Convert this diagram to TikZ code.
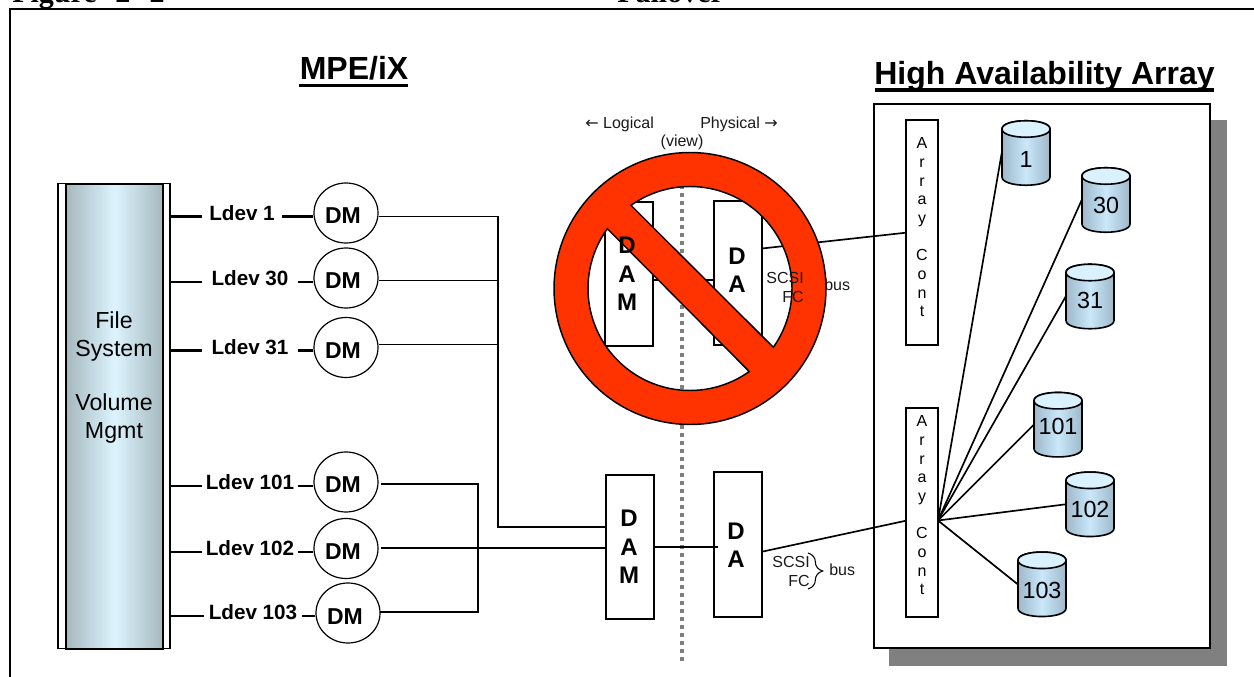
\documentclass[tikz,border=0pt]{standalone}
\usepackage{fontspec}
\setmainfont{Liberation Sans}
\newfontfamily\serifbold[BoldFont={Liberation Serif Bold}]{Liberation Serif}
\newfontfamily\arrowfont{DejaVu Sans}
\usetikzlibrary{decorations.pathreplacing,shapes.geometric}
\definecolor{barend}{HTML}{A5B8BE}
\definecolor{barmid}{HTML}{DDF4FE}
\definecolor{cylend}{HTML}{9CB8C9}
\definecolor{cylmid}{HTML}{CBE8FB}
\definecolor{cyltop}{HTML}{DAF1FF}
\definecolor{shadowgray}{HTML}{808080}
\definecolor{nored}{HTML}{FF3300}
\tikzset{
  boxnode/.style={draw=black,fill=white,line width=1.5pt,inner sep=0pt,minimum width=36pt},
  dmnode/.style={draw=black,fill=white,line width=0.9pt,ellipse,inner sep=0pt,minimum width=48pt,minimum height=45pt,font=\fontsize{17.25}{20}\selectfont\bfseries},
  ldevnode/.style={inner sep=0pt,font=\fontsize{15.5}{18}\selectfont\bfseries},
  wire/.style={line width=1.25pt,draw=black},
  ldevwire/.style={line width=1.6pt,draw=black},
  smalltext/.style={inner sep=0pt,font=\fontsize{12}{14}\selectfont,text=black!90},
  lettersbold/.style={inner sep=0pt,align=center,font=\fontsize{18}{21.2}\selectfont\bfseries},
  lettersthin/.style={inner sep=0pt,align=center,font=\fontsize{12}{14}\selectfont},
  headline/.style={inner sep=0pt,font=\fontsize{24}{28}\selectfont\bfseries},
  cyllabel/.style={inner sep=0pt,minimum width=36pt,minimum height=48pt,font=\fontsize{17.5}{20}\selectfont},
}
\newcommand{\dmtext}{\hspace*{-4.5pt}\raisebox{-8.25pt}[0pt][0pt]{DM}}
\newcommand{\ldevtext}[1]{\raisebox{-2.8pt}[0pt][0pt]{#1}}
% cylinder: name, left x, top y, label, drop of the label's baseline in pt
\newcommand{\cylinderat}[5]{%
  \begin{scope}[shift={(#2,#3)}]
    \draw[line width=1.2pt,left color=cylend,right color=cylend,middle color=cylmid]
      (0,8) -- (0,56) .. controls (0,67) and (48,67) .. (48,56) -- (48,8) .. controls (48,-3) and (0,-3) .. (0,8) -- cycle;
    \draw[line width=1.2pt,fill=cyltop]
      (0,8) .. controls (0,-3) and (48,-3) .. (48,8) .. controls (48,19) and (0,19) .. (0,8) -- cycle;
    \node[cyllabel] (#1) at (24,32) {\raisebox{-#5pt}[0pt][0pt]{#4}};
  \end{scope}}
\begin{document}
\begin{tikzpicture}[x=0.75pt,y=-0.75pt]
\useasboundingbox (0,0) rectangle (1254,677);
\begin{scope}
\clip (0,0) rectangle (1254,677);
% page title, cut by the top edge
\node[anchor=base west,inner sep=0pt,font=\fontsize{22.5}{26}\selectfont\serifbold\bfseries] (figtitle) at (12,2.5) {Figure\hspace{14pt}2-\hspace{7pt}2};
\node[anchor=base west,inner sep=0pt,font=\fontsize{22.5}{26}\selectfont\serifbold\bfseries] (figname) at (617,2.5) {Failover};
% frame, open to the right and below
\draw[line width=1.5pt] (10,680) -- (10,8.7) -- (1260,8.7);
\end{scope}

% headings
\node[headline,anchor=base] (mpe) at (354,80) {MPE/iX};
\node[headline,anchor=base] (haa) at (1044.5,85) {High Availability Array};
\draw[line width=2.6pt] (299,85.3) -- (408,85.3);
\draw[line width=2.8pt] (875,90) -- (1214,90);

% file system column
\node[draw=black,line width=1pt,fill=white,minimum width=84pt,minimum height=348.7pt,inner sep=0pt] (fsouter) at (114,416.3) {};
\node[draw=black,line width=1.6pt,left color=barend,right color=barend,middle color=barmid,minimum width=73pt,minimum height=348.7pt,inner sep=0pt] (fsinner) at (114.5,416.3) {};
\node[inner sep=0pt,align=center,font=\fontsize{17.4}{20.6}\selectfont] (fstext) at (114,377.5) {File\\System\\[20.6pt]Volume\\Mgmt};

% dm circles
\node[dmnode] (dm1) at (346,213) {\dmtext};
\node[dmnode] (dm30) at (346,278) {\dmtext};
\node[dmnode] (dm31) at (346,347.5) {\dmtext};
\node[dmnode] (dm101) at (346,482) {\dmtext};
\node[dmnode] (dm102) at (346,548.5) {\dmtext};
\node[dmnode] (dm103) at (348,613) {\dmtext};

% ldev labels: each node spans the gap in its wire
\node[ldevnode,minimum width=60pt] (l1) at (242,216.5) {\ldevtext{Ldev 1}};
\node[ldevnode,minimum width=72pt] (l30) at (250,282) {\ldevtext{Ldev 30}};
\node[ldevnode,minimum width=72pt] (l31) at (250,350.5) {\ldevtext{Ldev 31}};
\node[ldevnode,minimum width=72pt] (l101) at (250,486) {\ldevtext{Ldev 101}};
\node[ldevnode,minimum width=72pt] (l102) at (250,552) {\ldevtext{Ldev 102}};
\node[ldevnode,minimum width=73pt] (l103) at (253,616) {\ldevtext{Ldev 103}};
\foreach \a/\b in {l1/dm1,l30/dm30,l31/dm31,l101/dm101,l102/dm102,l103/dm103}{
  \draw[ldevwire] (fsouter.east |- \a.west) -- (\a.west);
  \draw[ldevwire] (\a.east) -- (\a.east -| \b.west);
}

% high availability array
\fill[shadowgray] (889,120) rectangle (1227,665.7);
\node[draw=black,fill=white,line width=1.5pt,minimum width=252.2pt,minimum height=408pt,inner sep=0pt] (hab) at (1041.8,376.3) {};

% boxes
\node[boxnode,minimum height=108pt] (damup) at (629,274) {};
\node[boxnode,minimum height=108.5pt] (daup) at (738,273) {};
\node[boxnode,minimum height=108pt] (damlo) at (630,547) {};
\node[boxnode,minimum height=108.5pt] (dalo) at (738,544.3) {};
\node[draw=black,fill=white,line width=1.5pt,minimum width=24.5pt,minimum height=168.7pt,inner sep=0pt] (acup) at (922,232.5) {};
\node[draw=black,fill=white,line width=1.5pt,minimum width=24.5pt,minimum height=156.5pt,inner sep=0pt] (aclo) at (922,512.3) {};

% view divider
\coordinate (vtop) at (682,161);
\coordinate (vbot) at (682,661);
\draw[shadowgray,line width=3pt,dash pattern=on 3pt off 3pt] (vtop) -- (vbot);

% wires: DM to DAM
\coordinate (busA) at (498,216.5);
\coordinate (busB) at (478,484);
\coordinate (wA) at (498,280.5);
\coordinate (wB) at (498,344.5);
\coordinate (wC) at (498,527);
\draw[wire] (dm1.east |- busA) -- (busA) -- (wC) -- (wC -| damlo.west);
\draw[wire] (dm30.east |- wA) -- (wA);
\draw[wire] (dm31.east |- wB) -- (wB);
\coordinate (lowtop) at (381,484);
\coordinate (lowmid) at (381,548);
\coordinate (lowbot) at (380,612);
\draw[wire] (lowtop) -- (busB) -- (478,612) -- (lowbot);
\draw[wire] (lowmid) -- (lowmid -| damlo.west);
% DAM to DA
\coordinate (loend) at (718,547);
\draw[wire] (damlo.east |- loend) -- (loend);
\coordinate (upmid) at (652,280);
\draw[wire] (upmid) -- (upmid -| daup.west);
% DA to array controller
\coordinate (daoutu) at (762,248.5);
\coordinate (acinu) at (906,232.7);
\coordinate (daoutl) at (762,551.7);
\coordinate (acinl) at (906,520.7);
\draw[wire] (daoutu) -- (acinu);
\draw[wire] (daoutl) -- (acinl);
% array controller to disks
\cylinderat{c1}{1002}{121}{1}{10.9}
\cylinderat{c30}{1082}{168}{30}{10}
\cylinderat{c31}{1066}{264.5}{31}{8.9}
\cylinderat{c101}{1034}{392.7}{101}{7}
\cylinderat{c102}{1066}{472.3}{102}{10}
\cylinderat{c103}{1018}{552.3}{103}{10.5}
\coordinate (fan) at (938,520.5);
\foreach \c in {c1,c30,c31,c101,c102,c103}{
  \draw[wire] (fan) -- (\c.west);
}

% view labels
\node[smalltext,anchor=west] (logical) at (585,124) {{\arrowfont ←} Logical};
\node[smalltext,anchor=west] (physical) at (700,124) {Physical {\arrowfont →}};
\node[smalltext] (viewlab) at (682,142) {(view)};

% lower bus label
\node[smalltext,anchor=east] (scsil) at (810,562) {SCSI};
\node[smalltext,anchor=east] (fcl) at (810,581) {FC};
\node[smalltext,anchor=west] (busl) at (829,570) {bus};
\draw[line width=0.8pt,decorate,decoration={brace,amplitude=11pt,aspect=0.5}] (808,553) -- (808,589);

% upper bus word lies under the no-entry sign
\node[smalltext,anchor=west] (busu) at (824,285) {bus};

% no-entry sign
\draw[line width=1.1pt,fill=nored,even odd rule]
  plot[domain=0:360,samples=121] ({690+136*cos(\x)},{288.5+136*sin(\x)}) -- cycle
  plot[domain=215.9:54.5,samples=60] ({690+102*cos(\x)},{288.5+102*sin(\x)}) -- cycle
  plot[domain=234.6:395.2,samples=60] ({690+102*cos(\x)},{288.5+102*sin(\x)}) -- cycle;

% text lying above the sign
\node[lettersbold] (damuptext) at (627,274) {D\\A\\M};
\node[lettersbold] (dauptext) at (737,270) {D\\A};
\node[lettersbold] (damlotext) at (629,547) {D\\A\\M};
\node[lettersbold] (dalotext) at (736,545) {D\\A};
\node[smalltext,anchor=east] (scsiu) at (804,278) {SCSI};
\node[smalltext,anchor=east] (fcu) at (804,297) {FC};
\node[lettersthin] (actextu) at (922,227.5) {A\\r\\r\\a\\y\\[14pt]C\\o\\n\\t};
\node[lettersthin] (actextl) at (922,505.5) {A\\r\\r\\a\\y\\[14pt]C\\o\\n\\t};
\end{tikzpicture}
\end{document}
